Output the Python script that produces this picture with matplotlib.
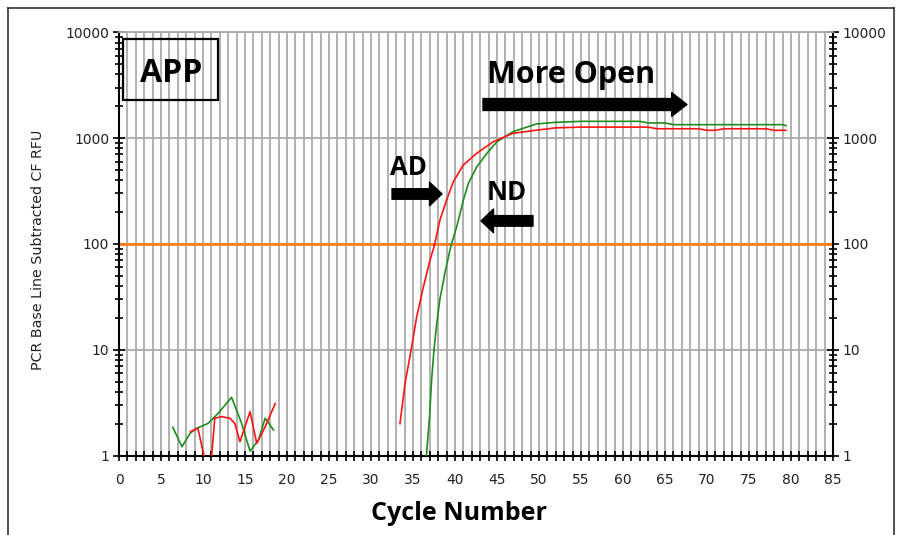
import numpy as np
import matplotlib
matplotlib.use('Agg')
import matplotlib.pyplot as plt
from matplotlib.ticker import MultipleLocator, LogLocator, NullFormatter, FixedLocator
from matplotlib.patches import Rectangle
from matplotlib.lines import Line2D

# AD (red) and ND (green) amplification curves
ad_noise_cycles = [8.5, 9.4, 10.0, 10.8, 11.4, 12.2, 13.2, 13.8, 14.4, 15.6, 16.4, 17.4, 18.6]
ad_noise_rfu = [1.68, 1.81, 1.09, 0.6, 2.25, 2.33, 2.25, 2.0, 1.35, 2.6, 1.3, 1.87, 3.1]
ad_cycles = [33.45, 34.05, 34.85, 35.44, 36.23, 37.02, 37.5, 38.21, 39.0, 39.8, 40.99,
             42.58, 44.56, 46.9, 49.76, 52, 55, 63, 64, 69, 70, 71, 72, 77, 78, 79.4]
ad_rfu = [2.0, 4.8, 10.7, 20.5, 39, 70, 94, 168, 260, 387, 557,
          718, 925, 1110, 1190, 1250, 1270, 1270, 1225, 1225, 1185, 1185, 1225, 1225, 1185, 1185]

nd_noise_cycles = [6.4, 7.5, 8.45, 9.25, 10.6, 11.8, 13.4, 14.6, 15.6, 16.6, 17.4, 18.4]
nd_noise_rfu = [1.85, 1.21, 1.62, 1.81, 2.01, 2.5, 3.55, 2.01, 1.1, 1.4, 2.25, 1.74]
nd_cycles = [36.6, 37.0, 37.2, 37.5, 37.8, 38.2, 38.8, 39.5, 40.2, 41.0, 41.6, 42.6,
             43.8, 45.0, 46.9, 49.7, 52, 55, 62, 63, 65, 66, 79, 79.4]
nd_rfu = [1.0, 2.5, 5, 10, 17, 30, 53, 95, 145, 260, 374, 537,
          718, 925, 1150, 1360, 1410, 1440, 1440, 1390, 1390, 1340, 1340, 1310]

threshold = 100
x_ticks = list(range(0, 86, 5))
y_ticks = [1, 10, 100, 1000, 10000]

red = '#ff1414'
green = '#1e8c1e'
orange = '#ff7f1e'
grid_col = '#ababab'
bold_font = 'Open Sans'

fig = plt.figure(figsize=(9.01, 5.35), dpi=100)
ax = fig.add_axes([119/901, 79.5/535, 714/901, 423.2/535])

ax.set_yscale('log')
ax.set_xlim(0, 85)
ax.set_ylim(1, 10000)

# grid: every cycle vertically, decades horizontally
for c in range(1, 85):
    ax.axvline(c, color=grid_col, lw=1.3, zorder=0)
for v in y_ticks[1:]:
    ax.axhline(v, color=grid_col, lw=1.3, zorder=0)

ax.axhline(threshold, color=orange, lw=2, zorder=2)

ax.plot(nd_noise_cycles, nd_noise_rfu, color=green, lw=1.2, zorder=3)
ax.plot(ad_noise_cycles, ad_noise_rfu, color=red, lw=1.2, zorder=3)
ax.plot(nd_cycles, nd_rfu, color=green, lw=1.2, zorder=3)
ax.plot(ad_cycles, ad_rfu, color=red, lw=1.2, zorder=4)

ax.xaxis.set_major_locator(FixedLocator(x_ticks))
ax.xaxis.set_minor_locator(MultipleLocator(1))
ax.yaxis.set_major_locator(FixedLocator(y_ticks))
ax.yaxis.set_minor_locator(LogLocator(base=10, subs=np.arange(2, 10)))
ax.yaxis.set_minor_formatter(NullFormatter())
ax.set_yticklabels([str(v) for v in y_ticks])
ax.set_xticklabels([str(v) for v in x_ticks])

ax.tick_params(axis='x', which='both', direction='inout', length=7, width=1.2,
               colors='black', labelsize=10, pad=9, top=False)
ax.tick_params(axis='y', which='major', direction='inout', length=8, width=1.2,
               left=True, right=True, labelleft=True, labelright=True,
               labelsize=10, pad=3)
ax.tick_params(axis='y', which='minor', direction='inout', length=6, width=1.2,
               left=True, right=True)
for lab in ax.get_xticklabels() + ax.get_yticklabels():
    lab.set_color('#222222')

for s in ['left', 'right', 'bottom']:
    ax.spines[s].set_color('black')
    ax.spines[s].set_linewidth(1.5)
ax.spines['top'].set_color(grid_col)
ax.spines['top'].set_linewidth(1.3)

ax.set_ylabel('PCR Base Line Subtracted CF RFU', fontsize=10.3, color='#222222')
ax.yaxis.set_label_coords(-0.104, 0.485)
ax.set_xlabel('Cycle Number', fontsize=18, fontweight='bold', family=bold_font)
ax.xaxis.set_label_coords(0.476, -0.108)

# APP box
ax.add_patch(Rectangle((0.0056, 0.840), 0.1331, 0.1442, transform=ax.transAxes,
                       fill=False, edgecolor='black', lw=1.6, zorder=5))
ax.text(0.0294, 0.8833, 'APP', transform=ax.transAxes, fontsize=23,
        fontweight='bold', family=bold_font, va='baseline', ha='left', zorder=6)

# annotations
ax.text(0.5154, 0.8795, 'More Open', transform=ax.transAxes, fontsize=22,
        fontweight='bold', family=bold_font, va='baseline', ha='left', zorder=6)
ax.text(0.3796, 0.6628, 'AD', transform=ax.transAxes, fontsize=18.5,
        fontweight='bold', family=bold_font, va='baseline', ha='left', zorder=6)
ax.text(0.515, 0.6037, 'ND', transform=ax.transAxes, fontsize=18.5,
        fontweight='bold', family=bold_font, va='baseline', ha='left', zorder=6)

big = dict(arrowstyle='simple,head_width=0.85,head_length=0.55,tail_width=0.43',
           color='black', mutation_scale=20, shrinkA=0, shrinkB=0)
small = dict(arrowstyle='simple,head_width=0.85,head_length=0.45,tail_width=0.38',
             color='black', mutation_scale=20, shrinkA=0, shrinkB=0)
ax.annotate('', xy=(0.7955, 0.8294), xytext=(0.5098, 0.8294),
            xycoords='axes fraction', arrowprops=big, zorder=6)
ax.annotate('', xy=(0.4524, 0.6180), xytext=(0.3824, 0.6180),
            xycoords='axes fraction', arrowprops=small, zorder=6)
ax.annotate('', xy=(0.5070, 0.5544), xytext=(0.5798, 0.5544),
            xycoords='axes fraction', arrowprops=small, zorder=6)

# outer frame of the original image
frame = dict(color='#333333', lw=1.2, transform=fig.transFigure)
fig.add_artist(Line2D([8/901, 8/901], [0, 1 - 8/535], **frame))
fig.add_artist(Line2D([8/901, 894/901], [1 - 8/535, 1 - 8/535], **frame))
fig.add_artist(Line2D([894/901, 894/901], [0, 1 - 8/535], **frame))

fig.savefig('out.png', dpi=100)
